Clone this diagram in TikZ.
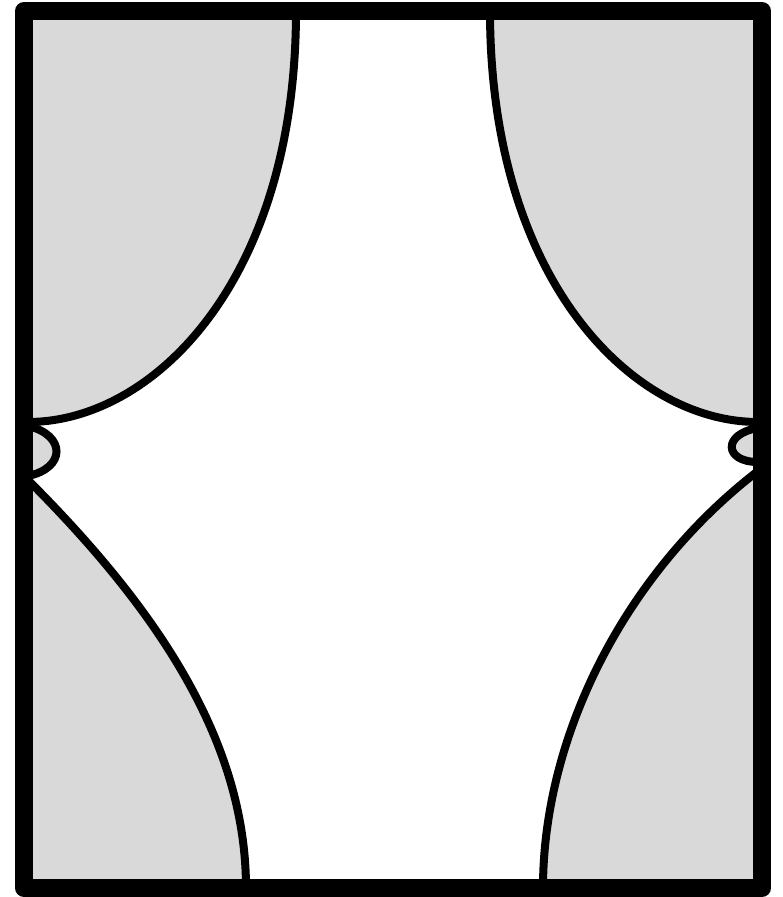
\documentclass[tikz,border=0pt]{standalone}
\definecolor{lobe}{RGB}{217,217,217}
\begin{document}
\begin{tikzpicture}[x=1pt,y=-1pt,
  lobefill/.style={fill=lobe},
  curve/.style={draw=black,line width=8pt},
  frame/.style={draw=black,line width=18pt,line join=round}]
\useasboundingbox (0,0) rectangle (783,897);
% gray regions
\fill[lobefill] (296,11) .. controls (296,281) and (153,422) .. (28,422) -- (24,422) -- (24,11) -- cycle;
\fill[lobefill] (490,11) .. controls (490,281) and (633,422) .. (758,422) -- (762,422) -- (762,11) -- cycle;
\fill[lobefill] (28,480) .. controls (153,605) and (246,738) .. (246,888) -- (24,888) -- (24,480) -- cycle;
\fill[lobefill] (758,471) .. controls (623,575) and (543,738) .. (543,888) -- (762,888) -- (762,471) -- cycle;
\fill[lobefill] (28,426) .. controls (66,435) and (66,468) .. (28,476) -- cycle;
\fill[lobefill] (758,428) .. controls (722,434) and (724,462) .. (758,462) -- cycle;
% curves
\draw[curve] (296,11) .. controls (296,281) and (153,422) .. (28,422);
\draw[curve] (490,11) .. controls (490,281) and (633,422) .. (758,422);
\draw[curve] (28,480) .. controls (153,605) and (246,738) .. (246,888);
\draw[curve] (758,471) .. controls (623,575) and (543,738) .. (543,888);
\draw[curve] (28,426) .. controls (66,435) and (66,468) .. (28,476);
\draw[curve] (758,428) .. controls (722,434) and (724,462) .. (758,462);
% frame
\draw[frame] (24,11) rectangle (762,888);
\end{tikzpicture}
\end{document}
